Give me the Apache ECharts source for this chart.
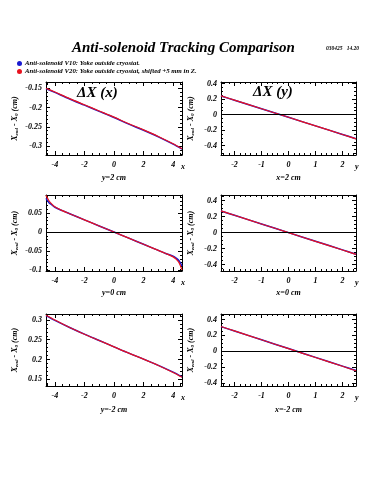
<!DOCTYPE html>
<html><head><meta charset="utf-8">
<script src="https://cdn.jsdelivr.net/npm/echarts@6/dist/echarts.min.js"></script>
<style>html,body{margin:0;padding:0;background:#fff}#c{width:375px;height:500px}</style>
</head><body><div id="c"></div>
<script>
// ---- data ----
const seriesNames = ['Anti-solenoid V10: Yoke outside cryostat.', 'Anti-solenoid V20: Yoke outside cryostat, shifted +5 mm in Z.'];
const panelTitles = ['ΔX (x)', 'ΔX (y)'];
const xNames = ['y=2 cm', 'x=2 cm', 'y=0 cm', 'x=0 cm', 'y=-2 cm', 'x=-2 cm'];
const axisVars = ['x', 'y'];

const xLeft = [-4.6, -4, -3, -2, -1, 0, 1, 2, 3, 4, 4.6];
const xLeftMid = [-4.6, -4.4, -4.2, -4, -3.5, -3, -2, -1, 0, 1, 2, 3, 3.5, 4, 4.2, 4.4, 4.6];
const xRight = [-2.5, -2, -1, 0, 1, 2, 2.5];

const topLeftV10 = [-0.151, -0.161, -0.178, -0.194, -0.210, -0.226, -0.243, -0.259, -0.276, -0.295, -0.308];
const topLeftV20 = [-0.150, -0.160, -0.177, -0.193, -0.209, -0.225, -0.242, -0.258, -0.275, -0.294, -0.307];
const midLeftV10 = [0.088, 0.077, 0.071, 0.065, 0.056, 0.048, 0.032, 0.016, 0, -0.016, -0.032, -0.048, -0.056, -0.063, -0.068, -0.075, -0.089];
const midLeftV20 = [0.096, 0.082, 0.073, 0.066, 0.056, 0.048, 0.032, 0.016, 0, -0.016, -0.032, -0.048, -0.056, -0.065, -0.071, -0.080, -0.099];
const botLeftV10 = [0.311, 0.299, 0.281, 0.264, 0.248, 0.232, 0.216, 0.201, 0.185, 0.168, 0.156];
const botLeftV20 = [0.312, 0.300, 0.281, 0.264, 0.248, 0.232, 0.216, 0.201, 0.185, 0.167, 0.155];

const topRightV10 = [0.240, 0.185, 0.075, -0.035, -0.145, -0.255, -0.310];
const topRightV20 = [0.242, 0.187, 0.076, -0.034, -0.145, -0.256, -0.312];
const midRightV10 = [0.270, 0.216, 0.108, 0.000, -0.108, -0.216, -0.270];
const midRightV20 = [0.272, 0.217, 0.108, 0.000, -0.109, -0.217, -0.272];
const botRightV10 = [0.310, 0.255, 0.144, 0.033, -0.078, -0.189, -0.245];
const botRightV20 = [0.312, 0.256, 0.144, 0.032, -0.080, -0.191, -0.247];

const xRangeLeft = [-4.6, 4.6];
const xRangeRight = [-2.5, 2.5];
const yRanges = [[-0.323, -0.134], [-0.52, 0.42], [-0.102, 0.097], [-0.48, 0.47], [0.133, 0.315], [-0.44, 0.47]];

// ---- layout / build ----
const FONT = 'Liberation Serif';
const colBlue = '#1a1ad0', colRed = '#e8121e';
const panels = [
  {l: 46, t: 82, w: 136, h: 73, xs: xLeft, a: topLeftV10, b: topLeftV20, xr: xRangeLeft, side: 0, gap: 19},
  {l: 221, t: 82, w: 135, h: 73, xs: xRight, a: topRightV10, b: topRightV20, xr: xRangeRight, side: 1, gap: 19},
  {l: 46, t: 195, w: 136, h: 76, xs: xLeftMid, a: midLeftV10, b: midLeftV20, xr: xRangeLeft, side: 0, gap: 18},
  {l: 221, t: 195, w: 135, h: 76, xs: xRight, a: midRightV10, b: midRightV20, xr: xRangeRight, side: 1, gap: 18},
  {l: 46, t: 314, w: 136, h: 72, xs: xLeft, a: botLeftV10, b: botLeftV20, xr: xRangeLeft, side: 0, gap: 20},
  {l: 221, t: 314, w: 135, h: 72, xs: xRight, a: botRightV10, b: botRightV20, xr: xRangeRight, side: 1, gap: 20}
];
const labelStyle = {fontFamily: FONT, fontStyle: 'italic', fontWeight: 'bold', fontSize: 8, color: '#000'};
const grids = [], xAxes = [], yAxes = [], series = [], graphics = [];
panels.forEach((p, i) => {
  grids.push({left: p.l, top: p.t, width: p.w, height: p.h, show: false});
  const yr = yRanges[i];
  const xSplit = 5, xMinor = p.side === 0 ? 4 : 5;
  const ySplit = p.side === 0 ? 4 : 5, yMinor = p.side === 0 ? 5 : 4;
  const line = {onZero: false, lineStyle: {color: '#000', width: 1}};
  const tick = {inside: true, length: 4, lineStyle: {color: '#000', width: 1}};
  const minor = (n) => ({show: true, splitNumber: n, length: 2, lineStyle: {color: '#000', width: 1}});
  xAxes.push({gridIndex: i, type: 'value', position: 'bottom', min: p.xr[0], max: p.xr[1], splitNumber: xSplit,
    axisLine: line, axisTick: tick, minorTick: minor(xMinor), splitLine: {show: false},
    axisLabel: Object.assign({showMinLabel: false, showMaxLabel: false, margin: 6}, labelStyle),
    name: xNames[i], nameLocation: 'middle', nameGap: p.gap,
    nameTextStyle: {fontFamily: FONT, fontStyle: 'italic', fontWeight: 'bold', fontSize: 8, color: '#000'}});
  xAxes.push({gridIndex: i, type: 'value', position: 'top', min: p.xr[0], max: p.xr[1], splitNumber: xSplit,
    axisLine: line, axisTick: tick, minorTick: minor(xMinor), splitLine: {show: false}, axisLabel: {show: false}});
  yAxes.push({gridIndex: i, type: 'value', position: 'left', min: yr[0], max: yr[1], splitNumber: ySplit,
    axisLine: line, axisTick: tick, minorTick: minor(yMinor), splitLine: {show: false},
    axisLabel: Object.assign({showMinLabel: false, showMaxLabel: false, margin: 4}, labelStyle),
    name: 'X{s|end} - X{s|0} (cm)', nameLocation: 'middle', nameGap: p.side === 0 ? 27 : 26,
    nameTextStyle: {fontFamily: FONT, fontStyle: 'italic', fontWeight: 'bold', fontSize: 8, color: '#000',
      rich: {s: {fontFamily: FONT, fontStyle: 'italic', fontWeight: 'bold', fontSize: 5, color: '#000', verticalAlign: 'bottom', padding: [4, 0, 0, 0]}}}});
  yAxes.push({gridIndex: i, type: 'value', position: 'right', min: yr[0], max: yr[1], splitNumber: ySplit,
    axisLine: line, axisTick: tick, minorTick: minor(yMinor), splitLine: {show: false}, axisLabel: {show: false}});
  const hasZero = yr[0] < 0 && yr[1] > 0;
  series.push({type: 'line', name: seriesNames[0], xAxisIndex: 2 * i, yAxisIndex: 2 * i, showSymbol: false, symbol: 'circle',
    smooth: 0.3, data: p.xs.map((x, k) => [x, p.a[k]]), lineStyle: {color: colBlue, width: 1.5}, itemStyle: {color: colBlue},
    z: 3, animation: false});
  series.push({type: 'line', name: seriesNames[1], xAxisIndex: 2 * i, yAxisIndex: 2 * i, showSymbol: false, symbol: 'circle',
    smooth: 0.3, data: p.xs.map((x, k) => [x, p.b[k]]), lineStyle: {color: colRed, width: 1.2}, itemStyle: {color: colRed},
    z: 4, animation: false,
    markLine: hasZero ? {silent: true, symbol: 'none', label: {show: false}, animation: false,
      lineStyle: {color: '#000', width: 1, type: 'solid'}, data: [{yAxis: 0}]} : undefined});
  graphics.push({type: 'text', left: p.l + p.w - 1, top: p.t + p.h + 8,
    style: {text: axisVars[p.side], font: 'italic bold 8px "Liberation Serif"', fill: '#000'}});
});
graphics.push({type: 'text', left: 72, top: 41, style: {text: 'Anti-solenoid Tracking Comparison',
  font: 'italic bold 15px "Liberation Serif"', fill: '#000'}});
graphics.push({type: 'text', left: 326, top: 46, style: {text: '030425   14.20',
  font: 'italic bold 5.5px "Liberation Serif"', fill: '#000'}});
graphics.push({type: 'text', left: 77, top: 86, style: {text: panelTitles[0], font: 'italic bold 15px "Liberation Serif"', fill: '#000'}});
graphics.push({type: 'text', left: 253, top: 85, style: {text: panelTitles[1], font: 'italic bold 15px "Liberation Serif"', fill: '#000'}});

const chart = echarts.init(document.getElementById('c'), null, {renderer: 'canvas'});
chart.setOption({
  animation: false,
  backgroundColor: '#fff',
  legend: {data: seriesNames, orient: 'vertical', left: 12, top: 55, itemWidth: 5, itemHeight: 5, itemGap: 1, icon: 'circle',
    textStyle: {fontFamily: FONT, fontStyle: 'italic', fontWeight: 'bold', fontSize: 6.8, color: '#000', padding: [0, 0, 0, -2]}},
  grid: grids, xAxis: xAxes, yAxis: yAxes, series: series, graphic: graphics
});
</script></body></html>
